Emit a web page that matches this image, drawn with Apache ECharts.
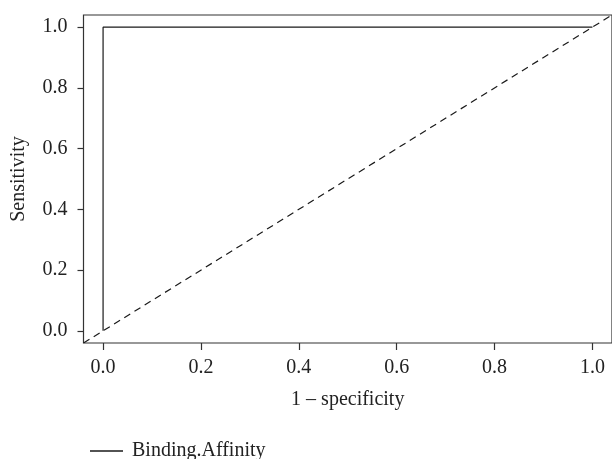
<!DOCTYPE html>
<html>
<head>
<meta charset="utf-8">
<script src="https://cdn.jsdelivr.net/npm/echarts@6/dist/echarts.min.js"></script>
<style>html,body{margin:0;padding:0;background:#fff;}#c{width:612px;height:459px;}</style>
</head>
<body>
<div id="c"></div>
<script>
var xTicks = [0, 0.2, 0.4, 0.6, 0.8, 1.0];
var yTicks = [0, 0.2, 0.4, 0.6, 0.8, 1.0];
var rocX = [0, 0, 1];
var rocY = [0, 1, 1];
var diagX = [-0.04, 1.04];
var diagY = [-0.04, 1.04];
var seriesName = 'Binding.Affinity';

var FONT = '"Liberation Serif", "DejaVu Serif", serif';
var chart = echarts.init(document.getElementById('c'), null, {renderer: 'canvas'});
chart.setOption({
  animation: false,
  backgroundColor: '#fff',
  textStyle: {fontFamily: FONT},
  grid: {left: 83.5, top: 15, right: 0, bottom: 116, show: true, borderColor: '#333', borderWidth: 1.2, containLabel: false},
  legend: {
    data: [seriesName], left: 85, top: 436, icon: 'rect', itemWidth: 33, itemHeight: 1.5, itemGap: 10,
    textStyle: {fontFamily: FONT, fontSize: 20, color: '#222', padding: [0, 0, 0, 4]}
  },
  xAxis: {
    type: 'value', min: -0.04, max: 1.04,
    name: '1 \u2013 specificity', nameLocation: 'middle', nameGap: 47,
    nameTextStyle: {fontFamily: FONT, fontSize: 20, color: '#222'},
    axisLine: {show: false, onZero: false}, splitLine: {show: false},
    axisTick: {show: true, inside: false, length: 7, lineStyle: {color: '#333', width: 1.2}, customValues: xTicks},
    axisLabel: {fontFamily: FONT, fontSize: 20, color: '#222', margin: 14.5, customValues: xTicks, formatter: function (v) { return v.toFixed(1); }}
  },
  yAxis: {
    type: 'value', min: -0.04, max: 1.04,
    name: 'Sensitivity', nameLocation: 'middle', nameGap: 54.5, nameRotate: 90,
    nameTextStyle: {fontFamily: FONT, fontSize: 20, color: '#222'},
    axisLine: {show: false, onZero: false}, splitLine: {show: false},
    axisTick: {show: true, inside: false, length: 6, lineStyle: {color: '#333', width: 1.2}, customValues: yTicks},
    axisLabel: {fontFamily: FONT, fontSize: 20, color: '#222', margin: 16, customValues: yTicks, formatter: function (v) { return v.toFixed(1); }}
  },
  series: [
    {
      name: seriesName, type: 'line', symbol: 'none', clip: true,
      data: rocX.map(function (x, i) { return [x, rocY[i]]; }),
      lineStyle: {color: '#1a1a1a', width: 1.2}, itemStyle: {color: '#1a1a1a'}
    },
    {
      name: 'ref', type: 'line', symbol: 'none', clip: true,
      data: diagX.map(function (x, i) { return [x, diagY[i]]; }),
      lineStyle: {color: '#1a1a1a', width: 1.2, type: [7, 5]}, itemStyle: {color: '#1a1a1a'}
    }
  ]
});
</script>
</body>
</html>
